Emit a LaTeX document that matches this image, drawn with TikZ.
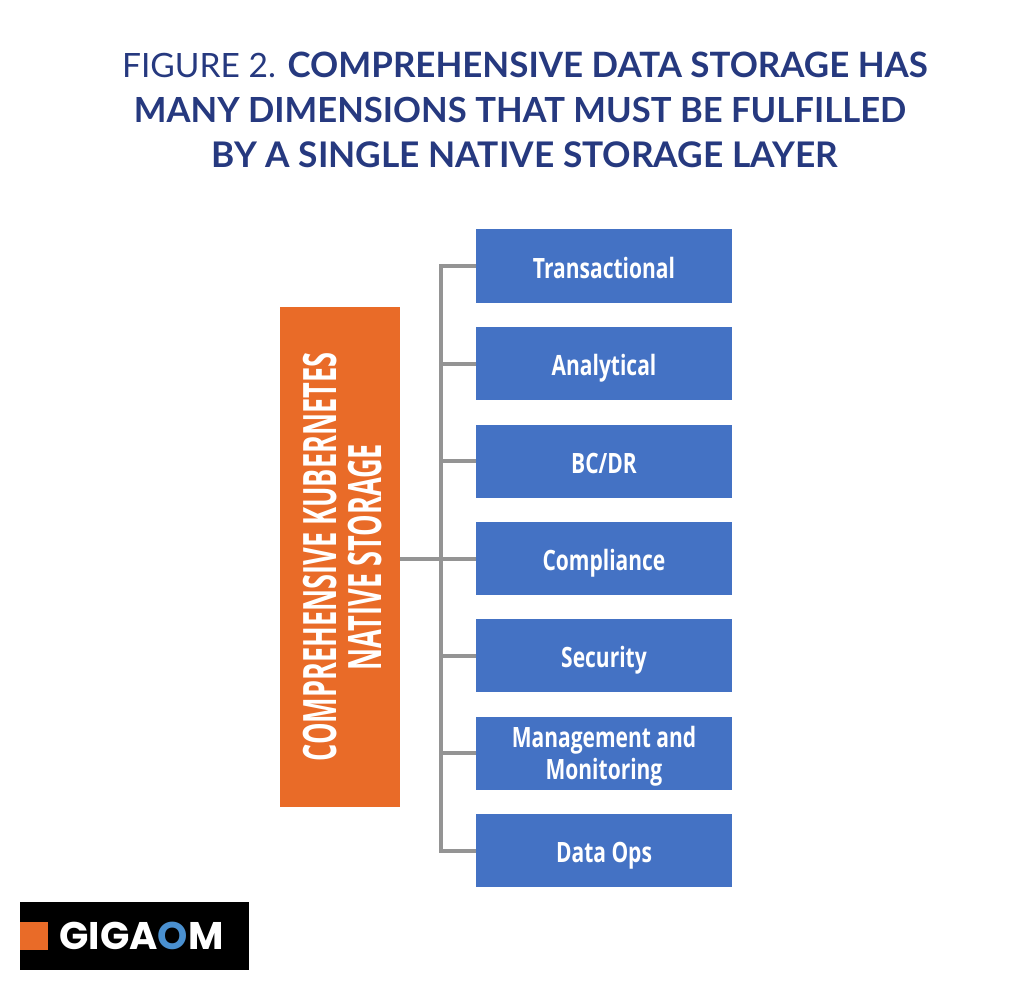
\documentclass[tikz,border=0pt]{standalone}
\usepackage{fontspec}
\setmainfont{Lato}
\newfontfamily\titlefont{Lato}
\newfontfamily\labelfont[FakeStretch=0.75]{Open Sans}
\newfontfamily\narrowfont[FakeStretch=0.59]{Open Sans}
\newfontfamily\logofont{Poppins}
\definecolor{titleblue}{HTML}{26397F}
\definecolor{boxblue}{HTML}{4472C4}
\definecolor{boxorange}{HTML}{E96B28}
\definecolor{linegray}{HTML}{949494}
\definecolor{logoblue}{HTML}{4A90D0}
\tikzset{
  itembox/.style={fill=boxblue,minimum width=256pt,minimum height=73pt,inner sep=0pt,
    text=white,align=center,font=\labelfont\bfseries\fontsize{28}{32}\selectfont},
  oneline/.style={itembox,text height=24pt,text depth=0pt},
  conn/.style={draw=linegray,line width=4pt},
  titleline/.style={text=titleblue,font=\titlefont\fontsize{34.6}{40}\selectfont,inner sep=0pt}
}
\begin{document}
\begin{tikzpicture}[x=1pt,y=-1pt]
\useasboundingbox (0,0) rectangle (1024,992);
\node[titleline] (title1) at (525,65) {{\fontsize{33.5}{40}\selectfont FIGURE 2.} \textbf{\fontsize{34.9}{40}\selectfont COMPREHENSIVE DATA STORAGE HAS}};
\node[titleline] (title2) at (520,110) {\textbf{MANY DIMENSIONS THAT MUST BE FULFILLED}};
\node[titleline,font=\titlefont\fontsize{35.3}{40}\selectfont] (title3) at (525,155) {\textbf{BY A SINGLE NATIVE STORAGE LAYER}};
% boxes
\node[oneline] (transactional) at (604,266) {Transactional};
\node[oneline] (analytical) at (604,363.5) {Analytical};
\node[oneline] (bcdr) at (604,461) {BC/DR};
\node[oneline] (compliance) at (604,558.5) {Compliance};
\node[oneline] (security) at (604,655.5) {Security};
\node[itembox] (management) at (604,753) {\rule{0pt}{27pt}Management and\\Monitoring};
\node[oneline] (dataops) at (604,850.5) {Data Ops};
\node[fill=boxorange,minimum width=120pt,minimum height=500pt,inner sep=0pt] (storage) at (340,557) {};
\node[rotate=90,text=white,align=center,inner sep=0pt,
  font=\narrowfont\bfseries\fontsize{46}{45}\selectfont] (storagetext) at (343,557)
  {COMPREHENSIVE KUBERNETES\\NATIVE STORAGE};
% connectors
\coordinate (trunk) at (441,558.5);
\draw[conn] (storage.east |- trunk) -- (compliance.west);
\draw[conn] (transactional.west) -| (trunk);
\draw[conn] (analytical.west) -| (trunk);
\draw[conn] (bcdr.west) -| (trunk);
\draw[conn] (security.west) -| (trunk);
\draw[conn] (management.west) -| (trunk);
\draw[conn] (dataops.west) -| (trunk);
% logo
\node[fill=black,minimum width=229pt,minimum height=68pt,inner sep=0pt] (logo) at (134.5,936) {};
\node[fill=boxorange,minimum width=28pt,minimum height=28pt,inner sep=0pt] (logomark) at (34,936) {};
\node[text=white,inner sep=0pt,font=\logofont\bfseries\fontsize{38.5}{38.5}\selectfont] (logotext) at (141.5,936)
  {GIGA\textcolor{logoblue}{O}M};
\end{tikzpicture}
\end{document}
